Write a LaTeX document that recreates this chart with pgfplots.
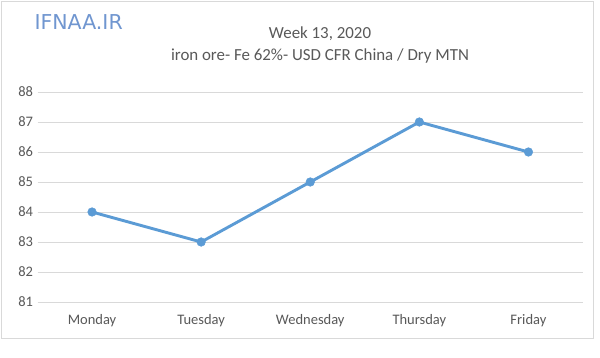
\documentclass[border=0pt]{standalone}
\usepackage{pgfplots}
\pgfplotsset{compat=1.18}
\usepackage{fontspec}
\setmainfont{Carlito}
\newfontfamily\logofont{DejaVu Sans}
\definecolor{txt}{HTML}{595959}
\definecolor{ln}{HTML}{5B9BD5}
\definecolor{grd}{HTML}{D9D9D9}
\definecolor{logo}{HTML}{7096D0}
\begin{document}
\begin{tikzpicture}[x=1pt,y=1pt]
\path[fill=white] (0,0) rectangle (600,358);
\draw[grd, line width=1pt] (1.5,19) rectangle (593,356.5);
\node[anchor=west, text=logo, font=\logofont\fontsize{20.5}{20.5}\selectfont] at (31,336) {IFNAA.IR};
\node[text=txt, font=\fontsize{16.9}{16.9}\selectfont] at (320,324) {Week 13, 2020};
\node[text=txt, font=\fontsize{16.9}{16.9}\selectfont] at (320,302) {iron ore- Fe 62\%- USD CFR China / Dry MTN};
\begin{axis}[
  at={(37.5pt,56pt)}, anchor=south west,
  scale only axis, width=545.5pt, height=210pt,
  xmin=-0.5, xmax=4.5, ymin=81, ymax=88,
  xtick={0,1,2,3,4},
  xticklabels={Monday,Tuesday,Wednesday,Thursday,Friday},
  ytick={81,82,...,88},
  axis line style={draw=none},
  major tick length=0pt,
  ymajorgrids, grid style={grd, line width=0.8pt},
  tick label style={text=txt, font=\fontsize{14.5}{14.5}\selectfont},
  /pgf/number format/assume math mode=true,
  yticklabel style={xshift=-1pt},
  xticklabel style={yshift=-9pt},
  clip=false,
]
\addplot[ln, line width=2.9pt, mark=*, mark size=4.3pt, mark options={fill=ln, draw=ln, line width=0.5pt}]
  coordinates {(0,84) (1,83) (2,85) (3,87) (4,86)};
\end{axis}
\end{tikzpicture}
\end{document}
